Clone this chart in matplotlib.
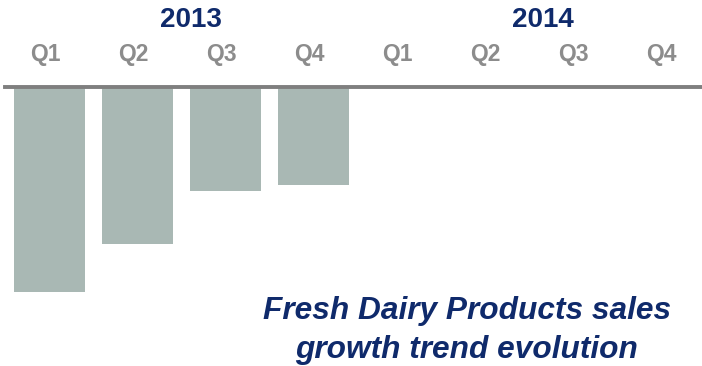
import matplotlib.pyplot as plt

# quarterly sales growth change (only 2013 reported)
quarters = ["Q1", "Q2", "Q3", "Q4", "Q1", "Q2", "Q3", "Q4"]
years = ["2013", "2014"]
growth = [-2.05, -1.57, -1.04, -0.98]
title_lines = ["Fresh Dairy Products sales", "growth trend evolution"]

bar_color = "#a9b8b4"
navy = "#0f2a6b"
grey_text = "#8c8c8c"

fig = plt.figure(figsize=(7.02, 3.66), dpi=100)
ax = fig.add_axes([0, 0, 1, 1])
ax.set_xlim(-0.5625, 7.415)
ax.set_ylim(-2.79, 0.87)
ax.axis("off")

ax.bar(range(len(growth)), growth, width=0.8, color=bar_color, align="center")
ax.axhline(0, xmin=0.007, xmax=1, color="#7f7f7f", lw=2.8, zorder=3)

for i, q in enumerate(quarters):
    ax.text(i - 0.05, 0.325, q, ha="center", va="center", fontsize=16.5,
            fontweight="bold", color=grey_text, family="Liberation Sans")

for k, y in enumerate(years):
    ax.text(1.61 + k * 4, 0.67, y, ha="center", va="center", fontsize=20,
            fontweight="bold", color=navy, family="Liberation Sans")

for j, line in enumerate(title_lines):
    ax.text(4.74, -2.24 - 0.39 * j, line, ha="center", va="center",
            fontsize=22.8, fontweight="bold", fontstyle="italic", color=navy,
            family="Liberation Sans")

fig.savefig("out.png", dpi=100)
